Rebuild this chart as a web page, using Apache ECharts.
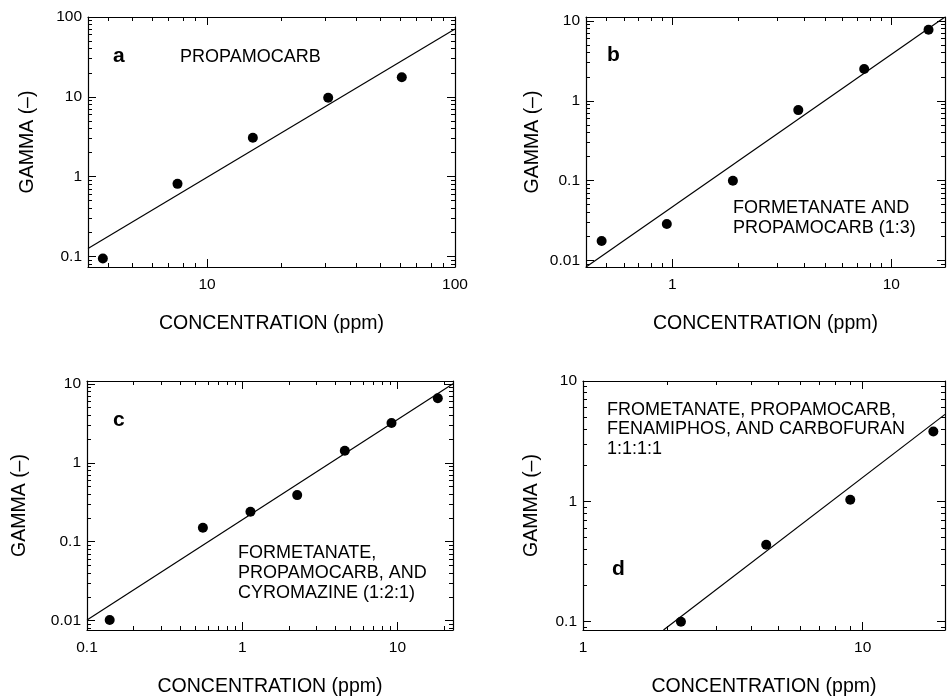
<!DOCTYPE html>
<html>
<head>
<meta charset="utf-8">
<script src="https://cdn.jsdelivr.net/npm/echarts@6/dist/echarts.min.js"></script>
<style>
html,body{margin:0;padding:0;background:#fff;}
#chart{width:948px;height:699px;}
</style>
</head>
<body>
<div id="chart"></div>
<script>
// ---- data ----
var concA = [3.8, 7.6, 15.3, 30.8, 61];
var gammaA = [0.094, 0.81, 3.07, 9.7, 17.6];
var fitA = [[3.31, 0.125], [100, 70.8]];

var concB = [0.475, 0.943, 1.89, 3.76, 7.52, 14.8];
var gammaB = [0.0176, 0.0287, 0.1, 0.765, 2.5, 7.76];
var fitB = [[0.403, 0.0083], [17.6, 11.2]];

var concC = [0.14, 0.558, 1.13, 2.26, 4.58, 9.16, 18.2];
var gammaC = [0.0102, 0.15, 0.24, 0.39, 1.42, 3.2, 6.6];
var fitC = [[0.1, 0.0102], [22.8, 10.06]];

var concD = [2.24, 4.52, 9.03, 17.9];
var gammaD = [0.1, 0.436, 1.03, 3.81];
var fitD = [[1.94, 0.0853], [19.7, 5.28]];

var xRanges = [[3.31, 100], [0.403, 17.6], [0.1, 22.8], [1, 19.7]];
var yRanges = [[0.0735, 100], [0.0083, 11.2], [0.0076, 10.9], [0.0853, 10]];

var xTitle = 'CONCENTRATION (ppm)';
var yTitle = 'GAMMA (\u2013)';
var panelLetters = ['a', 'b', 'c', 'd'];
var panelNotes = [
  ['PROPAMOCARB'],
  ['FORMETANATE AND', 'PROPAMOCARB (1:3)'],
  ['FORMETANATE,', 'PROPAMOCARB, AND', 'CYROMAZINE (1:2:1)'],
  ['FROMETANATE, PROPAMOCARB,', 'FENAMIPHOS, AND CARBOFURAN', '1:1:1:1']
];

// ---- layout ----
var FONT = "'Liberation Sans', Arial, Helvetica, sans-serif";
var grids = [
  {left: 88, top: 17, width: 367, height: 250},
  {left: 586, top: 17, width: 367, height: 250},
  {left: 87, top: 381, width: 366, height: 249},
  {left: 583, top: 381, width: 367, height: 249}
];
var yNameGaps = [50, 43, 57, 41];
var letterPos = [[113, 56], [607, 55], [113, 420], [612, 569]];
var notePos = [[180, 57.5], [733, 208.3], [238, 553.3], [607, 410]];
var noteLH = [20, 20, 20, 19.5];

function powLabel(v) {
  var e = Math.log10(v);
  var r = Math.round(e);
  if (Math.abs(e - r) > 1e-6) return '';
  return r >= 0 ? String(Math.pow(10, r)) : Math.pow(10, r).toFixed(-r);
}

var concs = [concA, concB, concC, concD];
var gammas = [gammaA, gammaB, gammaC, gammaD];
var fits = [fitA, fitB, fitC, fitD];

function makeAxis(pos, showLabel, isX, idx) {
  var ax = {
    type: 'log', logBase: 10, gridIndex: idx, position: pos,
    min: isX ? xRanges[idx][0] : yRanges[idx][0],
    max: isX ? xRanges[idx][1] : yRanges[idx][1],
    axisLine: {show: true, onZero: false, lineStyle: {color: '#000', width: 1.2}},
    axisTick: {show: true, inside: true, length: 8, lineStyle: {color: '#000', width: 1}},
    minorTick: {show: true, splitNumber: 9, length: 4, lineStyle: {color: '#000', width: 1}},
    splitLine: {show: false},
    minorSplitLine: {show: false},
    axisLabel: {show: showLabel, margin: isX ? 10 : 6, formatter: powLabel,
      color: '#000', fontSize: 15.5, fontFamily: FONT},
    z: 5
  };
  if (showLabel) {
    ax.name = isX ? xTitle : yTitle;
    ax.nameLocation = 'middle';
    ax.nameGap = isX ? 47 : yNameGaps[idx];
    ax.nameTextStyle = {color: '#000', fontSize: 19.5, fontFamily: FONT};
  }
  return ax;
}

var xAxes = [], yAxes = [], series = [], graphics = [];
for (var i = 0; i < 4; i++) {
  xAxes.push(makeAxis('bottom', true, true, i));
  xAxes.push(makeAxis('top', false, true, i));
  yAxes.push(makeAxis('left', true, false, i));
  yAxes.push(makeAxis('right', false, false, i));

  var pts = concs[i].map(function (c, k) { return [c, gammas[i][k]]; });
  series.push({
    type: 'line', xAxisIndex: 2 * i, yAxisIndex: 2 * i,
    data: fits[i], showSymbol: false, symbol: 'none', clip: true,
    lineStyle: {color: '#000', width: 1.2}, silent: true, z: 3
  });
  series.push({
    type: 'scatter', xAxisIndex: 2 * i, yAxisIndex: 2 * i,
    data: pts, symbol: 'circle', symbolSize: 10,
    itemStyle: {color: '#000', opacity: 1}, z: 4
  });

  graphics.push({
    type: 'text', x: letterPos[i][0], y: letterPos[i][1],
    style: {text: panelLetters[i], fill: '#000', font: 'bold 21px ' + FONT,
      textAlign: 'left', textVerticalAlign: 'middle'}
  });
  panelNotes[i].forEach(function (line, k) {
    graphics.push({
      type: 'text', x: notePos[i][0], y: notePos[i][1] + k * noteLH[i],
      style: {text: line, fill: '#000', font: '18px ' + FONT,
        textAlign: 'left', textVerticalAlign: 'middle'}
    });
  });
}

var chart = echarts.init(document.getElementById('chart'), null, {renderer: 'canvas'});
chart.setOption({
  animation: false,
  backgroundColor: '#fff',
  grid: grids.map(function (g) { return Object.assign({containLabel: false, show: false}, g); }),
  xAxis: xAxes,
  yAxis: yAxes,
  series: series,
  graphic: graphics
});
</script>
</body>
</html>
